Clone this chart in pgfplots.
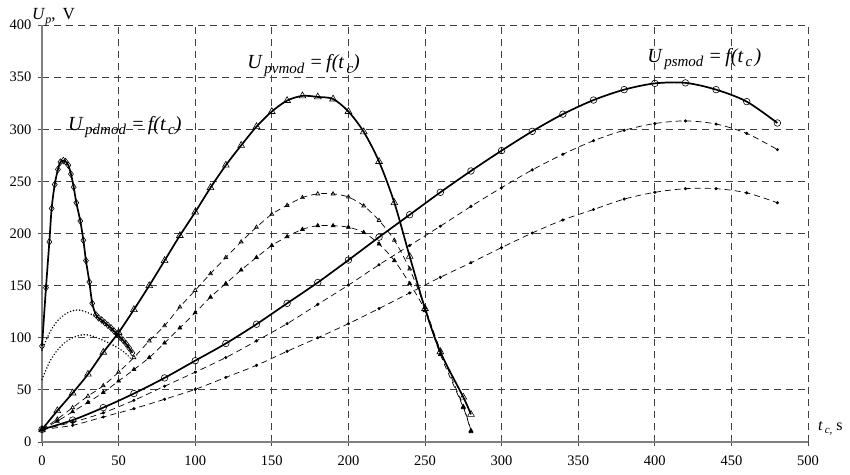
\documentclass[border=0pt]{standalone}
\usepackage{pgfplots}
\pgfplotsset{compat=1.18}
\usepackage{fontspec}
\setmainfont{Liberation Serif}

\pgfplotstableread{
x y
0 92
2.6 148
4.8 192
6.3 224
8.3 247
10.4 261.5
12 268.5
13.9 270
15.4 269
17.2 265.5
18.9 257
20.7 244.5
22.4 229.5
25 212
27 193.5
28.7 174
30.9 153.5
32.8 133
35.2 122
37 119
39 117
41 114.5
43 112
45 109.5
47 106.5
49 103.5
51 100.5
53 97.5
55 94
57 90
59 85.5
}\pdmod

\pgfplotstableread{
x y
0 88
5 105
10 116
15 122.5
20 126
25 126.5
30 124
35 120
40 114
45 108
50 101
55 93
58 87
}\dotA

\pgfplotstableread{
x y
0 60
5 77
10 88
15 95.5
20 100
25 102.5
28 103
32 102
36 100
40 97.5
45 94
50 90
55 84.5
58 80
}\dotB

\pgfplotstableread{
x y
0 12
10 30
20 47
30 65
40 86
50 105
60 127
70 150
80 174
90 198
100 220.5
110 244
120 265.5
130 284.5
140 302.5
150 317
160 327.5
170 332
180 331
190 329
200 317
210 297.5
220 269
230 229.5
240 178
250 128
260 86.5
275 43
280 26.5
}\pvmod

\pgfplotstableread{
x y
0 12
10 22
20 33
30 44
40 54
50 67
60 81
70 97
80 111.5
90 129.5
100 145.5
110 161.5
120 177
130 192
140 206
150 218.5
160 227
170 234.5
180 238
190 238
200 235
210 226.5
220 212.5
230 193.5
240 166
250 129
260 88
275 34
280 11
}\pvA

\pgfplotstableread{
x y
0 12
10 20
20 29
30 38
40 47.5
50 58.5
60 69.5
70 81
80 95
90 109.5
100 124
110 139
120 152
130 165
140 177
150 188.5
160 197
170 204
180 207.5
190 207.5
200 206
210 201
220 190
230 174
240 152
250 126
260 84
275 33
280 10
}\pvB

\pgfplotstableread{
x y
0 12
20 21
40 33
60 46.5
80 61.5
100 78
120 94.5
140 113
160 133
180 153
200 174.5
220 196.5
240 218
260 239.5
280 260
300 279.5
320 298
340 314.5
360 328
380 338
400 344
420 344.5
440 338
460 326.5
480 306
}\psmod

\pgfplotstableread{
x y
0 12
20 19
40 28
60 40
80 53.5
100 67
120 81
140 97
160 113.5
180 132
200 150.5
220 170
240 188.5
260 207
280 226
300 244
320 261
340 276
360 289
380 299
400 305.5
420 308
440 305
460 296
480 280.5
}\psA

\pgfplotstableread{
x y
0 12
20 16
40 24
60 32
80 41
100 50.5
120 62
140 73.5
160 87
180 100
200 113.5
220 128
240 143
260 158
280 172
300 186.5
320 200.5
340 213
360 223
380 233
400 239.5
420 243
440 243
460 239
480 229.5
}\psB

\begin{document}
\begin{tikzpicture}
\begin{axis}[
  scale only axis, width=766pt, height=417pt,
  xmin=0, xmax=500, ymin=0, ymax=400,
  xtick={0,50,...,500}, ytick={0,50,...,400},
  axis x line=bottom, axis y line=left,
  axis line style={-, black!50, line width=1.2pt},
  grid=major,
  grid style={black!75, line width=0.8pt, dash pattern=on 7pt off 5pt},
  tick style={black!70, line width=0.8pt},
  tick align=center, major tick length=8pt,
  tick label style={font=\fontsize{14.5}{16}\selectfont},
  xticklabel style={yshift=-6pt},
  yticklabel style={xshift=-3pt},
  /pgf/number format/assume math mode=true,
  clip=false,
  solidc/.style={black, line width=1.7pt, smooth, mark options={solid, fill=white, line width=0.6pt}},
  dashc/.style={black, line width=0.7pt, dash pattern=on 6pt off 4pt, mark options={solid}},
]
% dotted pd variants
\addplot[black, line width=1.6pt, dash pattern=on 0.1pt off 3pt, line cap=round, smooth, no marks] table {\dotA};
\addplot[black, line width=1.6pt, dash pattern=on 0.1pt off 3pt, line cap=round, smooth, no marks] table {\dotB};
% dashed pv variants
\addplot[dashc, smooth, mark=triangle, mark size=2.2pt] table {\pvA};
\addplot[dashc, smooth, mark=triangle*, mark size=2.2pt] table {\pvB};
% dashed ps variants
\addplot[dashc, smooth, mark=*, mark size=1.2pt] table {\psA};
\addplot[dashc, smooth, mark=*, mark size=1.2pt] table {\psB};
% solid curves
\addplot[solidc, mark=diamond, mark size=3.3pt] table {\pdmod};
\addplot[solidc, mark=triangle, mark size=3.9pt] table {\pvmod};
\addplot[solidc, mark=o, mark size=3.3pt] table {\psmod};

\node[anchor=base west, font=\fontsize{20}{22}\selectfont\itshape, inner sep=0pt] at (axis cs:17,299)
  {U\raisebox{-0.5ex}{\fontsize{15}{16}\selectfont\,pdmod} =\,f(t\raisebox{-0.5ex}{\fontsize{15}{16}\selectfont\,c})};
\node[anchor=base west, font=\fontsize{20}{22}\selectfont\itshape, inner sep=0pt] at (axis cs:134,358)
  {U\raisebox{-0.5ex}{\fontsize{15}{16}\selectfont\,pvmod} =\,f(t\raisebox{-0.5ex}{\fontsize{15}{16}\selectfont\,c})};
\node[anchor=base west, font=\fontsize{20}{22}\selectfont\itshape, inner sep=0pt] at (axis cs:395,364.5)
  {U\raisebox{-0.5ex}{\fontsize{15}{16}\selectfont\,psmod} =\,f(t\raisebox{-0.5ex}{\fontsize{15}{16}\selectfont\,c\,})};

\node[anchor=base west, inner sep=0pt, font=\fontsize{17}{18}\selectfont] at (axis cs:0,400)
  [xshift=-10pt, yshift=5pt] {\textit{U}\raisebox{-0.4ex}{\fontsize{12}{12}\selectfont\textit{p}}, \,V};
\node[anchor=base west, inner sep=0pt, font=\fontsize{16}{18}\selectfont] at (axis cs:500,11)
  [xshift=10pt] {\textit{t}\raisebox{-0.4ex}{\fontsize{11}{12}\selectfont\textit{\,c,}} s};
\end{axis}
\pgfresetboundingbox
\path[use as bounding box] ([xshift=-42pt,yshift=-32pt]current axis.south west) rectangle ([xshift=42pt,yshift=25pt]current axis.north east);
\end{tikzpicture}
\end{document}
